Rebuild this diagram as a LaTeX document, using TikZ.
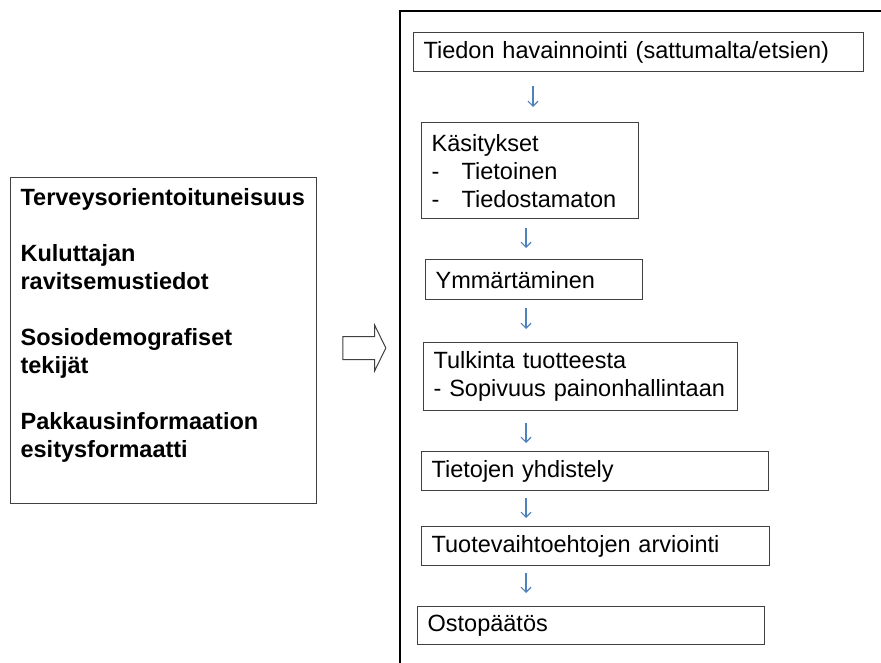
\documentclass[tikz,border=0pt]{standalone}
\usepackage{fontspec}
\setmainfont{Liberation Sans}
\usetikzlibrary{shapes.arrows,arrows.meta}
\definecolor{flowblue}{HTML}{4F81BD}
\definecolor{boxgray}{HTML}{404040}
\newcommand{\pxfont}{\fontsize{23.5bp}{28bp}\selectfont}
\tikzset{
  stepbox/.style={draw=boxgray, line width=1.3bp, anchor=north west, align=left, inner xsep=10bp, inner ysep=2bp},
  flow/.style={draw=flowblue, line width=1.1bp, -{Straight Barb[length=5bp,width=10bp]}},
}
\begin{document}
\begin{tikzpicture}[x=1bp, y=-1bp, font=\pxfont]
\useasboundingbox (0,0) rectangle (881,663);
\clip (0,0) rectangle (881,663);
% left: factors
\node[draw=boxgray, line width=1.2bp, anchor=north west, inner xsep=10bp, inner ysep=11bp, font=\pxfont\bfseries] (tekijat) at (10,177)
  {\parbox[c][304bp][t]{286bp}{Terveysorientoituneisuus\\[28bp]Kuluttajan\\ravitsemustiedot\\[28bp]Sosiodemografiset\\tekijät\\[28bp]Pakkausinformaation\\esitysformaatti}};
\node[single arrow, draw=boxgray, line width=1bp, inner xsep=0pt, inner ysep=11bp, minimum height=43bp,
  single arrow head extend=11.5bp, single arrow tip angle=128] (nuoli) at (361.5,348) {};
% right: process
\node[draw, line width=2.2bp, anchor=north west, minimum width=540bp, minimum height=720bp] (prosessi) at (399,10) {};
\node[stepbox, text width=430bp, minimum height=39bp] (havainto) at (413,32) {Tiedon havainnointi (sattumalta/etsien)};
\node[stepbox, text width=197bp, minimum height=96bp] (kasitys) at (421,122)
  {Käsitykset\\\makebox[30bp][l]{-}Tietoinen\\\makebox[30bp][l]{-}Tiedostamaton};
\node[stepbox, text width=197bp, minimum height=40bp] (ymmarrys) at (425,259) {Ymmärtäminen};
\node[stepbox, text width=294bp, minimum height=68bp] (tulkinta) at (423,342) {Tulkinta tuotteesta\\- Sopivuus painonhallintaan};
\node[stepbox, text width=327bp, minimum height=39bp] (yhdistely) at (421,451) {Tietojen yhdistely};
\node[stepbox, text width=328bp, minimum height=39bp] (arviointi) at (421,526) {Tuotevaihtoehtojen arviointi};
\node[stepbox, text width=327bp, minimum height=38bp] (ostopaatos) at (417,606) {Ostopäätös};
\coordinate (axa) at (533,0);
\coordinate (ax) at (526,0);
\draw[flow, shorten <=14bp, shorten >=15bp] (havainto.south -| axa) -- (kasitys.north -| axa);
\draw[flow, shorten <=9bp, shorten >=11bp] (kasitys.south -| ax) -- (ymmarrys.north -| ax);
\draw[flow, shorten <=8bp, shorten >=13bp] (ymmarrys.south -| ax) -- (tulkinta.north -| ax);
\draw[flow, shorten <=12bp, shorten >=8bp] (tulkinta.south -| ax) -- (yhdistely.north -| ax);
\draw[flow, shorten <=7bp, shorten >=8bp] (yhdistely.south -| ax) -- (arviointi.north -| ax);
\draw[flow, shorten <=7bp, shorten >=13bp] (arviointi.south -| ax) -- (ostopaatos.north -| ax);
\end{tikzpicture}
\end{document}
